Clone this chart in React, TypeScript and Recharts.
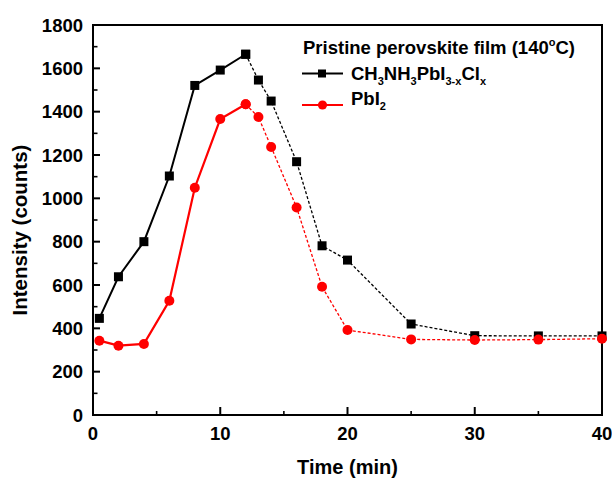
import React from 'react';
import { LineChart, Line, XAxis, YAxis, ReferenceArea } from 'recharts';

const times = [0.5, 2, 4, 6, 8, 10, 12, 13, 14, 16, 18, 20, 25, 30, 35, 40];
const perovskite = [446, 638, 800, 1103, 1521, 1592, 1665, 1546, 1449, 1169, 781, 715, 420, 366, 365, 365];
const pbi2 = [343, 320, 328, 527, 1049, 1366, 1434, 1375, 1237, 958, 592, 392, 349, 346, 348, 352];
const splitTime = 12;
const xTicks = [0, 5, 10, 15, 20, 25, 30, 35, 40];
const xLabelTicks = [0, 10, 20, 30, 40];
const yTicks = [0, 100, 200, 300, 400, 500, 600, 700, 800, 900, 1000, 1100, 1200, 1300, 1400, 1500, 1600, 1700, 1800];
const yLabelTicks = [0, 200, 400, 600, 800, 1000, 1200, 1400, 1600, 1800];
const xTitle = 'Time (min)';
const yTitle = 'Intensity (counts)';
const legendTitle = ['Pristine perovskite film (140', 'o', 'C)'];

const data = times.map((t, i) => ({
  t,
  bS: t <= splitTime ? perovskite[i] : null,
  bD: t >= splitTime ? perovskite[i] : null,
  rS: t <= splitTime ? pbi2[i] : null,
  rD: t >= splitTime ? pbi2[i] : null,
}));

const FONT = '"Liberation Sans", Arial, sans-serif';

const XTick = (props: any) => {
  const { x, y, payload } = props;
  const major = xLabelTicks.includes(payload.value);
  return (
    <g>
      <line x1={x} y1={y} x2={x} y2={y - (major ? 8 : 4)} stroke="#000" strokeWidth={major ? 2 : 1.6} />
      {major && (
        <text x={x} y={y + 25} textAnchor="middle" fontFamily={FONT} fontWeight="bold" fontSize={18.5} fill="#000">
          {payload.value}
        </text>
      )}
    </g>
  );
};

const YTick = (props: any) => {
  const { x, y, payload } = props;
  const major = yLabelTicks.includes(payload.value);
  return (
    <g>
      <line x1={x} y1={y} x2={x + (major ? 7 : 4.5)} y2={y} stroke="#000" strokeWidth={major ? 2 : 1.6} />
      {major && (
        <text x={x - 10} y={y + 6.5} textAnchor="end" fontFamily={FONT} fontWeight="bold" fontSize={18.5} fill="#000">
          {payload.value}
        </text>
      )}
    </g>
  );
};

const SquareDot = (props: any) => {
  const { cx, cy, index } = props;
  if (cx == null || cy == null) return <g key={`sq-${index}`} />;
  return <rect key={`sq-${index}`} x={cx - 4.5} y={cy - 4.5} width={9} height={9} fill="#000" />;
};

const CircleDot = (props: any) => {
  const { cx, cy, index } = props;
  if (cx == null || cy == null) return <g key={`ci-${index}`} />;
  return <circle key={`ci-${index}`} cx={cx} cy={cy} r={5} fill="#ff0000" />;
};

const Legend = () => (
  <svg width={612} height={479} style={{ position: 'absolute', left: 0, top: 0, pointerEvents: 'none' }}>
    <text x={303} y={53.5} fontFamily={FONT} fontWeight="bold" fontSize={18.5} fill="#000">
      {legendTitle[0]}
      <tspan fontSize={11} dy={-8}>{legendTitle[1]}</tspan>
      <tspan dy={8}>{legendTitle[2]}</tspan>
    </text>
    <line x1={302} y1={73.5} x2={343} y2={73.5} stroke="#000" strokeWidth={2} />
    <rect x={318} y={69.5} width={8} height={8} fill="#000" />
    <text x={351} y={80} fontFamily={FONT} fontWeight="bold" fontSize={18.5} fill="#000">
      CH<tspan fontSize={11} dy={5}>3</tspan>
      <tspan dy={-5}>NH</tspan><tspan fontSize={11} dy={5}>3</tspan>
      <tspan dy={-5}>PbI</tspan><tspan fontSize={11} dy={5}>3-x</tspan>
      <tspan dy={-5}>Cl</tspan><tspan fontSize={11} dy={5}>x</tspan>
    </text>
    <line x1={302} y1={105} x2={343} y2={105} stroke="#ff0000" strokeWidth={2} />
    <circle cx={322.5} cy={105} r={4.6} fill="#ff0000" />
    <text x={351} y={105} fontFamily={FONT} fontWeight="bold" fontSize={18.5} fill="#000">
      PbI<tspan fontSize={11} dy={5}>2</tspan>
    </text>
  </svg>
);

export default function App() {
  return (
    <div style={{ position: 'absolute', left: 0, top: 0, width: 612, height: 479, background: '#fff' }}>
      <LineChart width={612} height={479} data={data} margin={{ top: 25, right: 10, bottom: 0, left: 0 }}>
        <XAxis
          dataKey="t"
          type="number"
          domain={[0, 40]}
          ticks={xTicks}
          interval={0}
          tickLine={false}
          tickSize={0}
          tickMargin={0}
          height={64}
          axisLine={{ stroke: '#000', strokeWidth: 2 }}
          tick={<XTick />}
          label={{
            content: (p: any) => {
              const vb = p.viewBox;
              return (
                <text x={vb.x + vb.width / 2} y={vb.y + 59} textAnchor="middle" fontFamily={FONT} fontWeight="bold" fontSize={20} fill="#000">
                  {xTitle}
                </text>
              );
            },
          }}
        />
        <YAxis
          type="number"
          domain={[0, 1800]}
          ticks={yTicks}
          interval={0}
          tickLine={false}
          tickSize={0}
          tickMargin={0}
          width={93}
          axisLine={{ stroke: '#000', strokeWidth: 2 }}
          tick={<YTick />}
          label={{
            content: (p: any) => {
              const vb = p.viewBox;
              const cx = vb.x + 27;
              const cy = vb.y + vb.height / 2 + 10;
              return (
                <text x={cx} y={cy} transform={`rotate(-90 ${cx} ${cy})`} textAnchor="middle" fontFamily={FONT} fontWeight="bold" fontSize={20.5} fill="#000">
                  {yTitle}
                </text>
              );
            },
          }}
        />
        <ReferenceArea x1={0} x2={40} y1={0} y2={1800} fill="none" stroke="#000" strokeWidth={2} ifOverflow="visible" />
        <Line dataKey="bD" type="linear" stroke="#000" strokeWidth={1.3} strokeDasharray="3 2" dot={<SquareDot />} isAnimationActive={false} connectNulls={false} />
        <Line dataKey="bS" type="linear" stroke="#000" strokeWidth={2} dot={<SquareDot />} isAnimationActive={false} connectNulls={false} />
        <Line dataKey="rD" type="linear" stroke="#ff0000" strokeWidth={1.3} strokeDasharray="3 2" dot={<CircleDot />} isAnimationActive={false} connectNulls={false} />
        <Line dataKey="rS" type="linear" stroke="#ff0000" strokeWidth={2.2} dot={<CircleDot />} isAnimationActive={false} connectNulls={false} />
      </LineChart>
      <Legend />
    </div>
  );
}
